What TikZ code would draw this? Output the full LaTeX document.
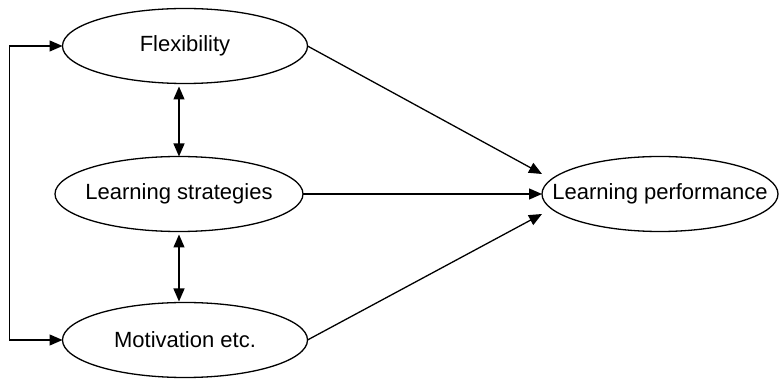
\documentclass[tikz,border=0pt]{standalone}
\usepackage{fontspec}
\setmainfont{Liberation Sans}
\usetikzlibrary{shapes.geometric,arrows.meta}

\tikzset{
    factor/.style={draw, ellipse, line width=1.3pt, inner xsep=-30pt, inner ysep=0pt,
        outer sep=0pt, minimum height=75pt},
    link/.style={line width=1.3pt, -{Triangle[length=13pt, width=11pt]}},
    twolink/.style={line width=1.3pt, {Triangle[length=13pt, width=11pt]}-{Triangle[length=13pt, width=11pt]}}
}

\begin{document}
\begin{tikzpicture}[x=1pt, y=-1pt, font=\fontsize{22}{26}\selectfont]
    \useasboundingbox (0,0) rectangle (780,379);

    \node[factor, minimum width=245pt] (flex)  at (185,46)  {Flexibility};
    \node[factor, minimum width=248pt] (strat) at (179,194) {Learning strategies};
    \node[factor, minimum width=245pt] (motiv) at (185,340) {Motivation etc.};
    \node[factor, minimum width=236pt] (perf)  at (660,194) {Learning performance};

    % links between the factors
    \draw[twolink, shorten <=3pt] (strat.north |- flex.south) -- (strat.north);
    \draw[twolink, shorten <=3pt, shorten >=1pt] (strat.south) -- (strat.south |- motiv.north);
    \draw[twolink] (flex.west) -- ++(-53,0) |- (motiv.west);

    % paths to performance
    \draw[link] (flex.east)  -- ([yshift=20pt]perf.west);
    \draw[link] (strat.east) -- (perf.west);
    \draw[link] (motiv.east) -- ([yshift=-20pt]perf.west);
\end{tikzpicture}
\end{document}
